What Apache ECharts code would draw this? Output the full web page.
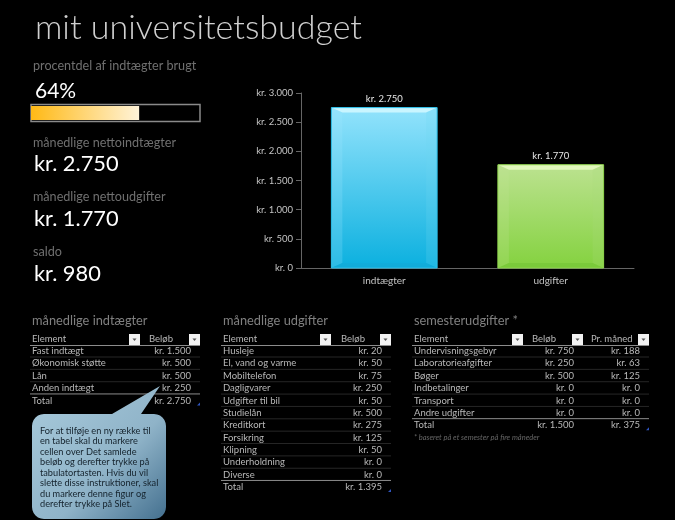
<!DOCTYPE html>
<html lang="da">
<head>
<meta charset="utf-8">
<title>mit universitetsbudget</title>
<script src="https://cdn.jsdelivr.net/npm/echarts@6/dist/echarts.min.js"></script>
<style>
  html, body { margin: 0; padding: 0; background: #000; }
  #chart { width: 675px; height: 520px; }
</style>
</head>
<body>
<div id="chart"></div>
<script>
const categories = ['indtægter', 'udgifter'];
const barValues = [2750, 1770];
const usedPercent = [64];

const incomeRows = ['Fast indtægt', 'Økonomisk støtte', 'Lån', 'Anden indtægt'];
const incomeAmounts = [1500, 500, 500, 250];
const incomeTotal = 2750;

const expenseRows = ['Husleje', 'El, vand og varme', 'Mobiltelefon', 'Dagligvarer', 'Udgifter til bil',
  'Studielån', 'Kreditkort', 'Forsikring', 'Klipning', 'Underholdning', 'Diverse'];
const expenseAmounts = [20, 50, 75, 250, 50, 500, 275, 125, 50, 0, 0];
const expenseTotal = 1395;

const semesterRows = ['Undervisningsgebyr', 'Laboratorieafgifter', 'Bøger', 'Indbetalinger', 'Transport', 'Andre udgifter'];
const semesterAmounts = [750, 250, 500, 0, 0, 0];
const semesterMonthly = [188, 63, 125, 0, 0, 0];
const semesterTotal = 1500;
const semesterMonthlyTotal = 375;

const calloutLines = ['For at tilføje en ny række til', 'en tabel skal du markere', 'cellen over Det samlede',
  'beløb og derefter trykke på', 'tabulatortasten. Hvis du vil', 'slette disse instruktioner, skal',
  'du markere denne figur og', 'derefter trykke på Slet.'];

const FONT = 'Lato, "Open Sans", sans-serif';
const ROW_HEIGHT = 12.36;

function kr(value) {
  return 'kr. ' + String(value).replace(/\B(?=(\d{3})+$)/g, '.');
}

function label(text, x, y, size, color, extra) {
  return {
    type: 'text',
    silent: true,
    style: Object.assign({
      x, y, text, fill: color, fontSize: size, fontFamily: FONT, verticalAlign: 'middle',
    }, extra),
  };
}

function rule(x1, x2, y, color) {
  return {
    type: 'line',
    silent: true,
    shape: { x1, x2, y1: y, y2: y },
    style: { stroke: color, lineWidth: 1 },
  };
}

/** Lille filterknap i tabelhovedet. */
function filterButton(x) {
  return [
    { type: 'rect', silent: true, shape: { x, y: 334, width: 11, height: 11 }, style: { fill: '#f2f2f2' } },
    { type: 'polygon', silent: true, shape: { points: [[x + 3.5, 338.5], [x + 7.5, 338.5], [x + 5.5, 341]] }, style: { fill: '#555' } },
  ];
}

/** Tegner en tabel: columns = [{ head, headX, buttonX, rightX, values, total }]. */
function table(title, left, right, rows, columns) {
  const items = [label(title, left + 2, 321, 12.8, '#808080')];
  const textColor = '#b8b8b8';

  items.push(label('Element', left + 2, 339, 9.5, textColor));
  items.push(rule(left, right, 345.5, '#8c8c8c'));

  rows.forEach((row, index) => {
    const y = 351 + index * ROW_HEIGHT;

    items.push(label(row, left + 2, y, 9.5, textColor));
    if (index < rows.length - 1) {
      items.push(rule(left, right, y + 6, '#262626'));
    }
  });

  const totalY = 351 + rows.length * ROW_HEIGHT;

  items.push(rule(left, right, totalY - 6.5, '#8c8c8c'));
  items.push(label('Total', left + 2, totalY, 9.5, textColor));
  items.push({
    type: 'polygon',
    silent: true,
    shape: { points: [[right - 3, totalY + 5], [right, totalY + 2], [right, totalY + 5]] },
    style: { fill: '#2f55c0' },
  });

  columns.forEach((column) => {
    items.push(label(column.head, column.headX, 339, 9.5, textColor));
    items.push(...filterButton(column.buttonX));
    column.values.forEach((value, index) => {
      items.push(label(kr(value), column.rightX, 351 + index * ROW_HEIGHT, 9.5, textColor, { align: 'right' }));
    });
    items.push(label(kr(column.total), column.rightX, totalY, 9.5, textColor, { align: 'right' }));
  });

  return items;
}

/** Hjørnepunkter til den afrundede taleboble. */
function arc(cx, cy, radius, start) {
  const points = [];

  for (let step = 0; step <= 6; step += 1) {
    const angle = start + (step / 6) * (Math.PI / 2);

    points.push([cx + radius * Math.cos(angle), cy + radius * Math.sin(angle)]);
  }
  return points;
}

function callout() {
  const radius = 12;
  const points = [
    [112, 414], [160, 386], [141, 414],
    ...arc(166 - radius, 414 + radius, radius, -Math.PI / 2),
    ...arc(166 - radius, 519 - radius, radius, 0),
    ...arc(32 + radius, 519 - radius, radius, Math.PI / 2),
    ...arc(32 + radius, 414 + radius, radius, Math.PI),
  ];
  const items = [{
    type: 'polygon',
    silent: true,
    shape: { points },
    style: {
      fill: new echarts.graphic.LinearGradient(0, 0, 1, 1, [
        { offset: 0, color: '#a9cbdc' },
        { offset: 0.6, color: '#8fb3c8' },
        { offset: 1, color: '#44708f' },
      ]),
    },
  }];

  calloutLines.forEach((line, index) => {
    items.push(label(line, 40, 431 + index * 10.5, 9.2, '#14222c'));
  });
  return items;
}

/** Facetkanterne på søjlerne, placeret via akserne. */
function renderBevel(params, api) {
  const index = api.value(0);
  const top = api.coord([index, api.value(1)]);
  const bottom = api.coord([index, 0]);
  const halfWidth = api.size([1, 0])[0] * 0.3175;
  const x1 = top[0] - halfWidth;
  const x2 = top[0] + halfWidth;
  const y1 = top[1];
  const y2 = bottom[1];
  const bevel = 11;
  const shades = index === 0
    ? { top: '#c9f5ff', left: '#a5e9fd', right: '#6fd5f3', bottom: '#15a8d6', edge: '#2cc0ea' }
    : { top: '#e2f7bd', left: '#c2e497', right: '#a9dc7c', bottom: '#6fc234', edge: '#8fd64d' };
  const face = (points, fill, opacity) => ({
    type: 'polygon',
    shape: { points },
    style: { fill, opacity },
  });

  return {
    type: 'group',
    children: [
      face([[x1, y1], [x2, y1], [x2 - bevel, y1 + 5], [x1 + bevel, y1 + 5]], shades.top, 1),
      face([[x1, y1], [x1 + bevel, y1 + 5], [x1 + bevel, y2 - 5], [x1, y2]], shades.left, 0.22),
      face([[x2, y1], [x2 - bevel, y1 + 5], [x2 - bevel, y2 - 5], [x2, y2]], shades.right, 0.22),
      face([[x1, y2], [x1 + bevel, y2 - 5], [x2 - bevel, y2 - 5], [x2, y2]], shades.bottom, 0.5),
      {
        type: 'rect',
        shape: { x: x1, y: y1, width: x2 - x1, height: y2 - y1 },
        style: { fill: 'none', stroke: shades.edge, lineWidth: 1 },
      },
    ],
  };
}

const graphics = [
  label('mit universitetsbudget', 35, 28, 34, '#d0d0d0', { fontWeight: 300 }),
  label('procentdel af indtægter brugt', 33, 66, 12.6, '#707070'),
  label(usedPercent[0] + '%', 35, 91, 21, '#ffffff'),
  label('månedlige nettoindtægter', 33, 143, 12.6, '#707070'),
  label(kr(barValues[0]), 34, 164, 21.8, '#ffffff'),
  label('månedlige nettoudgifter', 33, 197, 12.6, '#707070'),
  label(kr(barValues[1]), 34, 219, 21.8, '#ffffff'),
  label('saldo', 33, 252, 12.6, '#707070'),
  label(kr(barValues[0] - barValues[1]), 34, 274, 21.8, '#ffffff'),
  ...table('månedlige indtægter', 30, 200, incomeRows, [
    { head: 'Beløb', headX: 149, buttonX: 189, rightX: 191, values: incomeAmounts, total: incomeTotal },
  ]),
  ...table('månedlige udgifter', 221, 391, expenseRows, [
    { head: 'Beløb', headX: 341, buttonX: 380, rightX: 382, values: expenseAmounts, total: expenseTotal },
  ]),
  ...table('semesterudgifter *', 412, 649, semesterRows, [
    { head: 'Beløb', headX: 532, buttonX: 572, rightX: 574, values: semesterAmounts, total: semesterTotal },
    { head: 'Pr. måned', headX: 591, buttonX: 638, rightX: 640, values: semesterMonthly, total: semesterMonthlyTotal },
  ]),
  label('* baseret på et semester på fire måneder', 414, 438, 7.5, '#666666', { fontStyle: 'italic' }),
  ...filterButton(129),
  ...filterButton(320),
  ...filterButton(512),
  ...callout(),
];

const barColors = [
  new echarts.graphic.LinearGradient(0, 0, 0, 1, [
    { offset: 0, color: '#93e3fc' },
    { offset: 1, color: '#0bb0df' },
  ]),
  new echarts.graphic.LinearGradient(0, 0, 0, 1, [
    { offset: 0, color: '#bce290' },
    { offset: 1, color: '#84d23f' },
  ]),
];

const chart = echarts.init(document.getElementById('chart'));

chart.setOption({
  animation: false,
  backgroundColor: '#000',
  grid: [
    { left: 301, top: 93, width: 333, height: 175 },
    { left: 31, top: 104.5, width: 169, height: 17, show: true, borderColor: '#8a8a8a', borderWidth: 1.5, backgroundColor: '#000' },
  ],
  xAxis: [
    {
      type: 'category',
      data: categories,
      gridIndex: 0,
      axisLine: { lineStyle: { color: '#666' } },
      axisTick: { alignWithLabel: false, lineStyle: { color: '#666' } },
      axisLabel: { color: '#c4c4c4', fontFamily: FONT, fontSize: 10, margin: 8 },
    },
    { type: 'value', gridIndex: 1, min: 0, max: 100, show: false },
  ],
  yAxis: [
    {
      type: 'value',
      gridIndex: 0,
      min: 0,
      max: 3000,
      interval: 500,
      axisLine: { show: true, lineStyle: { color: '#666' } },
      axisTick: { show: true, lineStyle: { color: '#666' } },
      splitLine: { show: false },
      axisLabel: { color: '#c4c4c4', fontFamily: FONT, fontSize: 9.5, margin: 8, formatter: kr },
    },
    { type: 'category', gridIndex: 1, data: ['brugt'], show: false },
  ],
  series: [
    {
      type: 'bar',
      xAxisIndex: 0,
      yAxisIndex: 0,
      barWidth: '63.5%',
      data: barValues.map((value, index) => ({ value, itemStyle: { color: barColors[index] } })),
      label: {
        show: true,
        position: 'top',
        distance: 4,
        color: '#e6e6e6',
        fontFamily: FONT,
        fontSize: 9.5,
        formatter: (params) => kr(params.value),
      },
    },
    {
      type: 'custom',
      xAxisIndex: 0,
      yAxisIndex: 0,
      silent: true,
      z: 3,
      renderItem: renderBevel,
      data: barValues.map((value, index) => [index, value]),
    },
    {
      type: 'bar',
      xAxisIndex: 1,
      yAxisIndex: 1,
      barWidth: 14,
      data: usedPercent,
      itemStyle: {
        color: new echarts.graphic.LinearGradient(0, 0, 1, 0, [
          { offset: 0, color: '#ffb915' },
          { offset: 1, color: '#fff3d8' },
        ]),
      },
    },
  ],
  graphic: graphics,
});
</script>
</body>
</html>
